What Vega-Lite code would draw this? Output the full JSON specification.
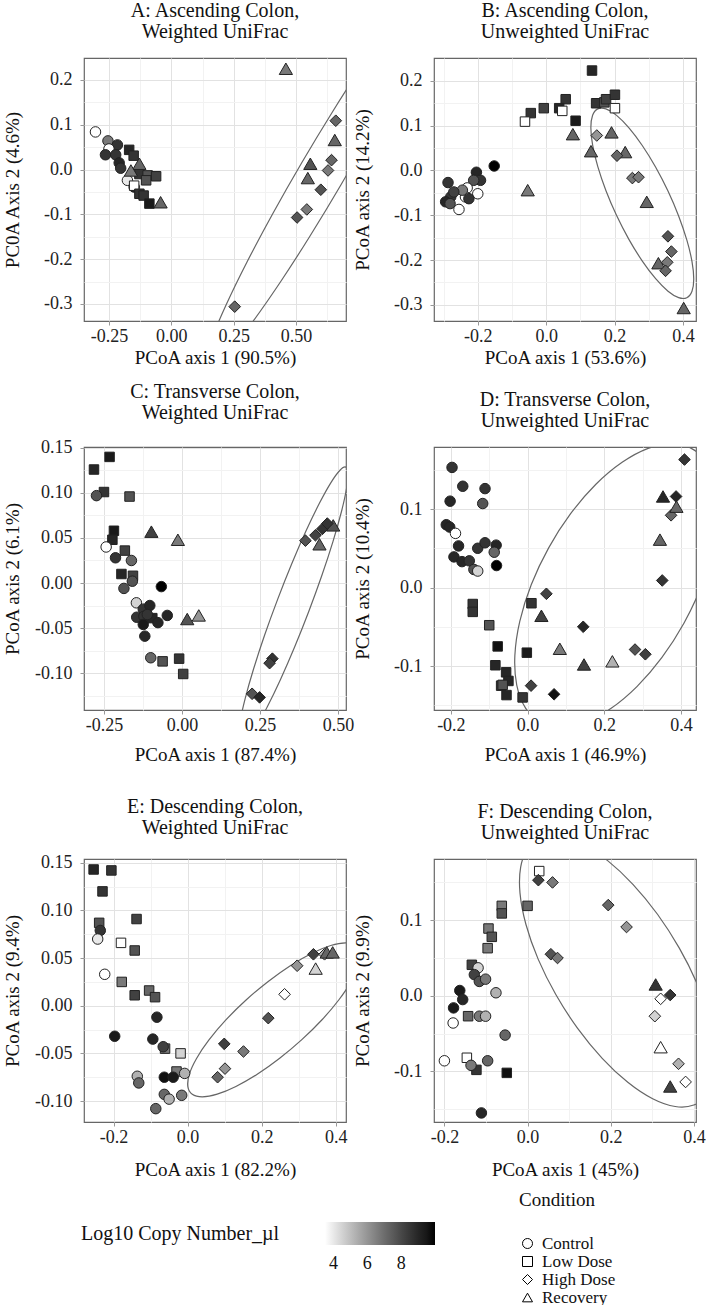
{
"$schema": "https://vega.github.io/schema/vega-lite/v6.json",
"padding": {"left": 2, "top": 0, "right": 0, "bottom": 0},
"background": "white",
"config": {
  "font": "Liberation Serif",
  "view": {"stroke": "#666", "strokeWidth": 1.2},
  "axis": {"domain": false, "labelFont": "Liberation Serif", "labelFontSize": 18, "labelColor": "#222", "titleFont": "Liberation Serif", "titleFontSize": 19, "titleFontWeight": "normal", "titleColor": "#111", "tickColor": "#999", "tickSize": 4, "labelOverlap": false, "labelFlush": false},
  "axisX": {"minExtent": 24, "maxExtent": 24, "labelPadding": 2},
  "axisY": {"minExtent": 50, "maxExtent": 50, "titlePadding": 12, "labelPadding": 8},
  "title": {"font": "Liberation Serif", "fontSize": 20, "fontWeight": "normal", "color": "#111", "lineHeight": 21, "anchor": "middle", "offset": 16},
  "point": {"size": 110, "filled": true, "stroke": "#222", "strokeWidth": 1, "opacity": 1, "fillOpacity": 1},
  "legend": {"labelFont": "Liberation Serif", "titleFont": "Liberation Serif", "titleFontWeight": "normal", "labelColor": "#111", "titleColor": "#111", "titleLimit": 400}
},
"datasets": {
"pts": [
{"p":"A","c":"Control","x":-0.304,"y":0.084,"v":3.5},
{"p":"A","c":"Control","x":-0.254,"y":0.064,"v":6.7},
{"p":"A","c":"Control","x":-0.216,"y":0.055,"v":8.6},
{"p":"A","c":"Control","x":-0.25,"y":0.046,"v":3.5},
{"p":"A","c":"Control","x":-0.264,"y":0.033,"v":8.6},
{"p":"A","c":"Control","x":-0.223,"y":0.033,"v":8.6},
{"p":"A","c":"Control","x":-0.209,"y":0.015,"v":9},
{"p":"A","c":"Control","x":-0.203,"y":0.003,"v":8.6},
{"p":"A","c":"Control","x":-0.176,"y":-0.024,"v":4},
{"p":"A","c":"Control","x":-0.149,"y":-0.039,"v":9},
{"p":"A","c":"Low Dose","x":-0.169,"y":0.044,"v":9},
{"p":"A","c":"Low Dose","x":-0.151,"y":0.031,"v":8.6},
{"p":"A","c":"Low Dose","x":-0.128,"y":-0.01,"v":8.6},
{"p":"A","c":"Low Dose","x":-0.095,"y":-0.013,"v":7.7},
{"p":"A","c":"Low Dose","x":-0.061,"y":-0.015,"v":8.2},
{"p":"A","c":"Low Dose","x":-0.101,"y":-0.024,"v":7.7},
{"p":"A","c":"Low Dose","x":-0.149,"y":-0.036,"v":3.5},
{"p":"A","c":"Low Dose","x":-0.128,"y":-0.054,"v":8.6},
{"p":"A","c":"Low Dose","x":-0.111,"y":-0.058,"v":8.6},
{"p":"A","c":"Low Dose","x":-0.088,"y":-0.076,"v":9.4},
{"p":"A","c":"Recovery","x":-0.128,"y":0.013,"v":7.2},
{"p":"A","c":"Recovery","x":-0.162,"y":-0.002,"v":6.7},
{"p":"A","c":"Recovery","x":-0.043,"y":-0.073,"v":7.2},
{"p":"A","c":"Recovery","x":0.655,"y":0.066,"v":7.2},
{"p":"A","c":"Recovery","x":0.557,"y":0.013,"v":7.7},
{"p":"A","c":"Recovery","x":0.547,"y":-0.019,"v":7.2},
{"p":"A","c":"Recovery","x":0.459,"y":0.225,"v":6.7},
{"p":"A","c":"High Dose","x":0.659,"y":0.109,"v":7.2},
{"p":"A","c":"High Dose","x":0.642,"y":0.021,"v":7.2},
{"p":"A","c":"High Dose","x":0.628,"y":-0.002,"v":6.7},
{"p":"A","c":"High Dose","x":0.599,"y":-0.045,"v":7.7},
{"p":"A","c":"High Dose","x":0.543,"y":-0.089,"v":6.7},
{"p":"A","c":"High Dose","x":0.504,"y":-0.107,"v":7.7},
{"p":"A","c":"High Dose","x":0.254,"y":-0.306,"v":7.2},
{"p":"B","c":"Low Dose","x":0.134,"y":0.223,"v":9},
{"p":"B","c":"Low Dose","x":0.146,"y":0.15,"v":8.6},
{"p":"B","c":"Low Dose","x":0.17,"y":0.152,"v":7.7},
{"p":"B","c":"Low Dose","x":0.175,"y":0.159,"v":8.2},
{"p":"B","c":"Low Dose","x":0.201,"y":0.169,"v":8.6},
{"p":"B","c":"Low Dose","x":0.201,"y":0.139,"v":3.5},
{"p":"B","c":"Low Dose","x":0.057,"y":0.159,"v":8.6},
{"p":"B","c":"Low Dose","x":0.038,"y":0.139,"v":9},
{"p":"B","c":"Low Dose","x":0.047,"y":0.133,"v":3.5},
{"p":"B","c":"Low Dose","x":-0.007,"y":0.139,"v":8.2},
{"p":"B","c":"Low Dose","x":-0.045,"y":0.128,"v":8.6},
{"p":"B","c":"Low Dose","x":-0.062,"y":0.109,"v":3.5},
{"p":"B","c":"Low Dose","x":0.086,"y":0.111,"v":9.4},
{"p":"B","c":"Recovery","x":0.078,"y":0.081,"v":7.2},
{"p":"B","c":"Recovery","x":0.191,"y":0.085,"v":7.2},
{"p":"B","c":"Recovery","x":0.131,"y":0.043,"v":7.2},
{"p":"B","c":"Recovery","x":0.231,"y":0.041,"v":7.2},
{"p":"B","c":"Recovery","x":0.294,"y":-0.07,"v":7.2},
{"p":"B","c":"Recovery","x":0.328,"y":-0.207,"v":7.2},
{"p":"B","c":"Recovery","x":0.402,"y":-0.307,"v":7.2},
{"p":"B","c":"Recovery","x":-0.054,"y":-0.044,"v":6.7},
{"p":"B","c":"High Dose","x":0.148,"y":0.078,"v":6},
{"p":"B","c":"High Dose","x":0.207,"y":0.033,"v":7.2},
{"p":"B","c":"High Dose","x":0.252,"y":-0.017,"v":6.7},
{"p":"B","c":"High Dose","x":0.27,"y":-0.015,"v":6.7},
{"p":"B","c":"High Dose","x":0.356,"y":-0.147,"v":7.7},
{"p":"B","c":"High Dose","x":0.366,"y":-0.181,"v":7.2},
{"p":"B","c":"High Dose","x":0.354,"y":-0.205,"v":6.7},
{"p":"B","c":"High Dose","x":0.349,"y":-0.224,"v":7.2},
{"p":"B","c":"Control","x":-0.152,"y":0.01,"v":10},
{"p":"B","c":"Control","x":-0.204,"y":-0.004,"v":9},
{"p":"B","c":"Control","x":-0.192,"y":-0.022,"v":8.6},
{"p":"B","c":"Control","x":-0.212,"y":-0.022,"v":7.7},
{"p":"B","c":"Control","x":-0.287,"y":-0.027,"v":8.6},
{"p":"B","c":"Control","x":-0.231,"y":-0.039,"v":3.5},
{"p":"B","c":"Control","x":-0.2,"y":-0.052,"v":3.5},
{"p":"B","c":"Control","x":-0.236,"y":-0.059,"v":3.5},
{"p":"B","c":"Control","x":-0.255,"y":-0.087,"v":3.5},
{"p":"B","c":"Control","x":-0.279,"y":-0.059,"v":8.6},
{"p":"B","c":"Control","x":-0.294,"y":-0.07,"v":9},
{"p":"B","c":"Control","x":-0.281,"y":-0.074,"v":7.7},
{"p":"B","c":"Control","x":-0.245,"y":-0.044,"v":6.7},
{"p":"B","c":"Control","x":-0.226,"y":-0.063,"v":8.6},
{"p":"B","c":"Control","x":-0.27,"y":-0.048,"v":8.2},
{"p":"C","c":"Low Dose","x":-0.232,"y":0.14,"v":9.4},
{"p":"C","c":"Low Dose","x":-0.282,"y":0.126,"v":9},
{"p":"C","c":"Low Dose","x":-0.25,"y":0.101,"v":8.6},
{"p":"C","c":"Low Dose","x":-0.168,"y":0.096,"v":7.7},
{"p":"C","c":"Low Dose","x":-0.218,"y":0.058,"v":9.4},
{"p":"C","c":"Low Dose","x":-0.223,"y":0.048,"v":9},
{"p":"C","c":"Low Dose","x":-0.183,"y":0.036,"v":8.2},
{"p":"C","c":"Low Dose","x":-0.194,"y":0.01,"v":9},
{"p":"C","c":"Low Dose","x":-0.157,"y":0.008,"v":8.2},
{"p":"C","c":"Low Dose","x":-0.095,"y":-0.039,"v":9},
{"p":"C","c":"Low Dose","x":-0.062,"y":-0.087,"v":7.7},
{"p":"C","c":"Low Dose","x":-0.009,"y":-0.084,"v":8.6},
{"p":"C","c":"Low Dose","x":0.004,"y":-0.101,"v":8.2},
{"p":"C","c":"Control","x":-0.274,"y":0.097,"v":7.7},
{"p":"C","c":"Control","x":-0.243,"y":0.04,"v":3.5},
{"p":"C","c":"Control","x":-0.213,"y":0.028,"v":8.6},
{"p":"C","c":"Control","x":-0.162,"y":0.025,"v":7.2},
{"p":"C","c":"Control","x":-0.159,"y":0.002,"v":7.7},
{"p":"C","c":"Control","x":-0.186,"y":-0.006,"v":7.7},
{"p":"C","c":"Control","x":-0.066,"y":-0.004,"v":10},
{"p":"C","c":"Control","x":-0.146,"y":-0.022,"v":4.5},
{"p":"C","c":"Control","x":-0.124,"y":-0.029,"v":8.6},
{"p":"C","c":"Control","x":-0.103,"y":-0.025,"v":9},
{"p":"C","c":"Control","x":-0.145,"y":-0.038,"v":8.6},
{"p":"C","c":"Control","x":-0.122,"y":-0.037,"v":8.6},
{"p":"C","c":"Control","x":-0.111,"y":-0.035,"v":8.6},
{"p":"C","c":"Control","x":-0.077,"y":-0.044,"v":9},
{"p":"C","c":"Control","x":-0.047,"y":-0.036,"v":9},
{"p":"C","c":"Control","x":-0.124,"y":-0.046,"v":9.4},
{"p":"C","c":"Control","x":-0.119,"y":-0.059,"v":9},
{"p":"C","c":"Control","x":-0.1,"y":-0.083,"v":7.2},
{"p":"C","c":"Recovery","x":-0.098,"y":0.057,"v":8.2},
{"p":"C","c":"Recovery","x":-0.013,"y":0.048,"v":6.7},
{"p":"C","c":"Recovery","x":0.017,"y":-0.04,"v":7.7},
{"p":"C","c":"Recovery","x":0.054,"y":-0.036,"v":6},
{"p":"C","c":"Recovery","x":0.441,"y":0.043,"v":7.2},
{"p":"C","c":"Recovery","x":0.485,"y":0.064,"v":7.7},
{"p":"C","c":"High Dose","x":0.396,"y":0.047,"v":7.7},
{"p":"C","c":"High Dose","x":0.428,"y":0.053,"v":8.2},
{"p":"C","c":"High Dose","x":0.45,"y":0.06,"v":8.6},
{"p":"C","c":"High Dose","x":0.466,"y":0.066,"v":8.6},
{"p":"C","c":"High Dose","x":0.29,"y":-0.084,"v":8.6},
{"p":"C","c":"High Dose","x":0.281,"y":-0.089,"v":8.2},
{"p":"C","c":"High Dose","x":0.225,"y":-0.123,"v":7.7},
{"p":"C","c":"High Dose","x":0.249,"y":-0.127,"v":9},
{"p":"D","c":"Control","x":-0.197,"y":0.153,"v":8.6},
{"p":"D","c":"Control","x":-0.169,"y":0.129,"v":8.6},
{"p":"D","c":"Control","x":-0.111,"y":0.126,"v":8.6},
{"p":"D","c":"Control","x":-0.202,"y":0.11,"v":9},
{"p":"D","c":"Control","x":-0.117,"y":0.107,"v":7.7},
{"p":"D","c":"Control","x":-0.212,"y":0.08,"v":9},
{"p":"D","c":"Control","x":-0.203,"y":0.077,"v":9},
{"p":"D","c":"Control","x":-0.188,"y":0.069,"v":3.5},
{"p":"D","c":"Control","x":-0.18,"y":0.053,"v":9},
{"p":"D","c":"Control","x":-0.13,"y":0.05,"v":8.6},
{"p":"D","c":"Control","x":-0.111,"y":0.057,"v":8.6},
{"p":"D","c":"Control","x":-0.082,"y":0.054,"v":9},
{"p":"D","c":"Control","x":-0.087,"y":0.045,"v":7.2},
{"p":"D","c":"Control","x":-0.192,"y":0.039,"v":9},
{"p":"D","c":"Control","x":-0.171,"y":0.033,"v":9},
{"p":"D","c":"Control","x":-0.152,"y":0.034,"v":8.6},
{"p":"D","c":"Control","x":-0.14,"y":0.023,"v":7.7},
{"p":"D","c":"Control","x":-0.13,"y":0.021,"v":4.5},
{"p":"D","c":"Control","x":-0.081,"y":0.028,"v":10},
{"p":"D","c":"Low Dose","x":-0.143,"y":-0.021,"v":8.6},
{"p":"D","c":"Low Dose","x":-0.143,"y":-0.031,"v":8.6},
{"p":"D","c":"Low Dose","x":-0.1,"y":-0.048,"v":7.7},
{"p":"D","c":"Low Dose","x":-0.078,"y":-0.075,"v":9.7},
{"p":"D","c":"Low Dose","x":-0.002,"y":-0.083,"v":9.4},
{"p":"D","c":"Low Dose","x":0.01,"y":-0.02,"v":8.6},
{"p":"D","c":"Low Dose","x":-0.084,"y":-0.099,"v":9},
{"p":"D","c":"Low Dose","x":-0.056,"y":-0.108,"v":9},
{"p":"D","c":"Low Dose","x":-0.05,"y":-0.119,"v":9},
{"p":"D","c":"Low Dose","x":-0.069,"y":-0.125,"v":8.6},
{"p":"D","c":"Low Dose","x":-0.065,"y":-0.124,"v":7.7},
{"p":"D","c":"Low Dose","x":-0.055,"y":-0.137,"v":9},
{"p":"D","c":"Low Dose","x":-0.013,"y":-0.14,"v":8.6},
{"p":"D","c":"High Dose","x":0.049,"y":-0.008,"v":8.2},
{"p":"D","c":"High Dose","x":0.145,"y":-0.05,"v":9},
{"p":"D","c":"High Dose","x":0.009,"y":-0.125,"v":8.2},
{"p":"D","c":"High Dose","x":0.069,"y":-0.136,"v":9.7},
{"p":"D","c":"High Dose","x":0.28,"y":-0.079,"v":7.7},
{"p":"D","c":"High Dose","x":0.307,"y":-0.085,"v":8.2},
{"p":"D","c":"High Dose","x":0.351,"y":0.009,"v":8.6},
{"p":"D","c":"High Dose","x":0.374,"y":0.092,"v":7.2},
{"p":"D","c":"High Dose","x":0.387,"y":0.116,"v":9},
{"p":"D","c":"High Dose","x":0.409,"y":0.163,"v":8.6},
{"p":"D","c":"Recovery","x":0.036,"y":-0.036,"v":8.2},
{"p":"D","c":"Recovery","x":0.084,"y":-0.078,"v":6.7},
{"p":"D","c":"Recovery","x":0.147,"y":-0.098,"v":8.2},
{"p":"D","c":"Recovery","x":0.221,"y":-0.094,"v":5.3},
{"p":"D","c":"Recovery","x":0.345,"y":0.061,"v":7.2},
{"p":"D","c":"Recovery","x":0.353,"y":0.116,"v":9},
{"p":"D","c":"Recovery","x":0.388,"y":0.103,"v":7.2},
{"p":"E","c":"Low Dose","x":-0.254,"y":0.143,"v":9},
{"p":"E","c":"Low Dose","x":-0.206,"y":0.142,"v":8.6},
{"p":"E","c":"Low Dose","x":-0.23,"y":0.12,"v":8.6},
{"p":"E","c":"Low Dose","x":-0.239,"y":0.087,"v":7.7},
{"p":"E","c":"Low Dose","x":-0.138,"y":0.091,"v":8.2},
{"p":"E","c":"Low Dose","x":-0.18,"y":0.066,"v":3.5},
{"p":"E","c":"Low Dose","x":-0.143,"y":0.058,"v":7.7},
{"p":"E","c":"Low Dose","x":-0.178,"y":0.025,"v":6.7},
{"p":"E","c":"Low Dose","x":-0.143,"y":0.011,"v":8.2},
{"p":"E","c":"Low Dose","x":-0.104,"y":0.016,"v":7.2},
{"p":"E","c":"Low Dose","x":-0.088,"y":0.009,"v":7.7},
{"p":"E","c":"Low Dose","x":-0.061,"y":-0.045,"v":6.7},
{"p":"E","c":"Low Dose","x":-0.019,"y":-0.05,"v":4.5},
{"p":"E","c":"Low Dose","x":-0.03,"y":-0.069,"v":6.7},
{"p":"E","c":"Control","x":-0.236,"y":0.079,"v":8.6},
{"p":"E","c":"Control","x":-0.243,"y":0.07,"v":4},
{"p":"E","c":"Control","x":-0.224,"y":0.033,"v":3.5},
{"p":"E","c":"Control","x":-0.083,"y":-0.012,"v":9},
{"p":"E","c":"Control","x":-0.197,"y":-0.032,"v":9.4},
{"p":"E","c":"Control","x":-0.094,"y":-0.035,"v":9},
{"p":"E","c":"Control","x":-0.066,"y":-0.043,"v":8.2},
{"p":"E","c":"Control","x":-0.136,"y":-0.074,"v":5.3},
{"p":"E","c":"Control","x":-0.132,"y":-0.081,"v":7.2},
{"p":"E","c":"Control","x":-0.063,"y":-0.075,"v":9.7},
{"p":"E","c":"Control","x":-0.039,"y":-0.075,"v":9.4},
{"p":"E","c":"Control","x":-0.063,"y":-0.093,"v":7.2},
{"p":"E","c":"Control","x":-0.05,"y":-0.098,"v":5.3},
{"p":"E","c":"Control","x":-0.086,"y":-0.108,"v":7.2},
{"p":"E","c":"Control","x":-0.016,"y":-0.094,"v":6.7},
{"p":"E","c":"Control","x":-0.008,"y":-0.071,"v":5.3},
{"p":"E","c":"High Dose","x":0.081,"y":-0.075,"v":7.2},
{"p":"E","c":"High Dose","x":0.101,"y":-0.066,"v":6},
{"p":"E","c":"High Dose","x":0.099,"y":-0.04,"v":8.2},
{"p":"E","c":"High Dose","x":0.151,"y":-0.048,"v":6.7},
{"p":"E","c":"High Dose","x":0.218,"y":-0.013,"v":7.7},
{"p":"E","c":"High Dose","x":0.262,"y":0.012,"v":3.5},
{"p":"E","c":"High Dose","x":0.296,"y":0.042,"v":6},
{"p":"E","c":"High Dose","x":0.34,"y":0.054,"v":8.2},
{"p":"E","c":"High Dose","x":0.37,"y":0.054,"v":5.3},
{"p":"E","c":"Recovery","x":0.346,"y":0.039,"v":4.5},
{"p":"E","c":"Recovery","x":0.376,"y":0.056,"v":7.2},
{"p":"E","c":"Recovery","x":0.392,"y":0.056,"v":7.2},
{"p":"F","c":"Low Dose","x":0.028,"y":0.165,"v":3.5},
{"p":"F","c":"Low Dose","x":-0.062,"y":0.119,"v":6.7},
{"p":"F","c":"Low Dose","x":-0.062,"y":0.109,"v":7.7},
{"p":"F","c":"Low Dose","x":0,"y":0.119,"v":7.2},
{"p":"F","c":"Low Dose","x":-0.094,"y":0.089,"v":6.7},
{"p":"F","c":"Low Dose","x":-0.086,"y":0.078,"v":7.7},
{"p":"F","c":"Low Dose","x":-0.096,"y":0.063,"v":6.7},
{"p":"F","c":"Low Dose","x":-0.134,"y":0.041,"v":8.2},
{"p":"F","c":"Low Dose","x":-0.143,"y":-0.027,"v":7.2},
{"p":"F","c":"Low Dose","x":-0.146,"y":-0.082,"v":3.5},
{"p":"F","c":"Low Dose","x":-0.123,"y":-0.098,"v":8.6},
{"p":"F","c":"Low Dose","x":-0.05,"y":-0.102,"v":9.7},
{"p":"F","c":"Control","x":-0.119,"y":0.037,"v":4.5},
{"p":"F","c":"Control","x":-0.128,"y":0.028,"v":8.2},
{"p":"F","c":"Control","x":-0.116,"y":0.019,"v":7.7},
{"p":"F","c":"Control","x":-0.101,"y":0.022,"v":6.7},
{"p":"F","c":"Control","x":-0.163,"y":0.007,"v":9.4},
{"p":"F","c":"Control","x":-0.156,"y":-0.005,"v":9},
{"p":"F","c":"Control","x":-0.178,"y":-0.016,"v":9.4},
{"p":"F","c":"Control","x":-0.179,"y":-0.036,"v":3.5},
{"p":"F","c":"Control","x":-0.076,"y":0.004,"v":5.3},
{"p":"F","c":"Control","x":-0.116,"y":-0.027,"v":6.7},
{"p":"F","c":"Control","x":-0.101,"y":-0.027,"v":5.3},
{"p":"F","c":"Control","x":-0.054,"y":-0.052,"v":7.2},
{"p":"F","c":"Control","x":-0.096,"y":-0.086,"v":7.2},
{"p":"F","c":"Control","x":-0.136,"y":-0.092,"v":6.7},
{"p":"F","c":"Control","x":-0.2,"y":-0.086,"v":3.5},
{"p":"F","c":"Control","x":-0.111,"y":-0.155,"v":9},
{"p":"F","c":"Recovery","x":0.308,"y":0.015,"v":8.6},
{"p":"F","c":"Recovery","x":0.32,"y":-0.068,"v":3.5},
{"p":"F","c":"Recovery","x":0.343,"y":-0.12,"v":8.2},
{"p":"F","c":"High Dose","x":0.026,"y":0.153,"v":8.2},
{"p":"F","c":"High Dose","x":0.06,"y":0.15,"v":6.7},
{"p":"F","c":"High Dose","x":0.056,"y":0.055,"v":7.7},
{"p":"F","c":"High Dose","x":0.072,"y":0.05,"v":6.7},
{"p":"F","c":"High Dose","x":0.194,"y":0.12,"v":7.2},
{"p":"F","c":"High Dose","x":0.238,"y":0.091,"v":6},
{"p":"F","c":"High Dose","x":0.343,"y":0.001,"v":8.6},
{"p":"F","c":"High Dose","x":0.32,"y":-0.004,"v":3.5},
{"p":"F","c":"High Dose","x":0.306,"y":-0.027,"v":4.5},
{"p":"F","c":"High Dose","x":0.363,"y":-0.09,"v":5.3},
{"p":"F","c":"High Dose","x":0.38,"y":-0.114,"v":3.5}
],
"ell": [
{"p":"A","i":0,"x":1.0605,"y":0.4267},{"p":"A","i":1,"x":1.0652,"y":0.4055},{"p":"A","i":2,"x":1.0381,"y":0.3558},{"p":"A","i":3,"x":0.9813,"y":0.2814},{"p":"A","i":4,"x":0.8987,"y":0.1871},{"p":"A","i":5,"x":0.7957,"y":0.0794},{"p":"A","i":6,"x":0.6794,"y":-0.0344},{"p":"A","i":7,"x":0.5577,"y":-0.1466},{"p":"A","i":8,"x":0.4391,"y":-0.2493},{"p":"A","i":9,"x":0.3315,"y":-0.3356},{"p":"A","i":10,"x":0.2423,"y":-0.3998},{"p":"A","i":11,"x":0.1774,"y":-0.4375},{"p":"A","i":12,"x":0.1415,"y":-0.4459},{"p":"A","i":13,"x":0.1368,"y":-0.4247},{"p":"A","i":14,"x":0.1639,"y":-0.375},{"p":"A","i":15,"x":0.2207,"y":-0.3006},{"p":"A","i":16,"x":0.3033,"y":-0.2063},{"p":"A","i":17,"x":0.4063,"y":-0.0986},{"p":"A","i":18,"x":0.5226,"y":0.0152},{"p":"A","i":19,"x":0.6443,"y":0.1274},{"p":"A","i":20,"x":0.7629,"y":0.2301},{"p":"A","i":21,"x":0.8705,"y":0.3164},{"p":"A","i":22,"x":0.9597,"y":0.3806},{"p":"A","i":23,"x":1.0246,"y":0.4183},
{"p":"B","i":0,"x":0.4112,"y":-0.284},{"p":"B","i":1,"x":0.4263,"y":-0.2697},{"p":"B","i":2,"x":0.4314,"y":-0.2421},{"p":"B","i":3,"x":0.4262,"y":-0.203},{"p":"B","i":4,"x":0.4111,"y":-0.1551},{"p":"B","i":5,"x":0.3872,"y":-0.1015},{"p":"B","i":6,"x":0.3561,"y":-0.046},{"p":"B","i":7,"x":0.3198,"y":0.0077},{"p":"B","i":8,"x":0.2809,"y":0.0557},{"p":"B","i":9,"x":0.242,"y":0.095},{"p":"B","i":10,"x":0.2058,"y":0.1229},{"p":"B","i":11,"x":0.1747,"y":0.1373},{"p":"B","i":12,"x":0.1508,"y":0.1374},{"p":"B","i":13,"x":0.1357,"y":0.1231},{"p":"B","i":14,"x":0.1306,"y":0.0955},{"p":"B","i":15,"x":0.1358,"y":0.0564},{"p":"B","i":16,"x":0.1509,"y":0.0085},{"p":"B","i":17,"x":0.1748,"y":-0.0451},{"p":"B","i":18,"x":0.2059,"y":-0.1006},{"p":"B","i":19,"x":0.2422,"y":-0.1543},{"p":"B","i":20,"x":0.2811,"y":-0.2023},{"p":"B","i":21,"x":0.32,"y":-0.2416},{"p":"B","i":22,"x":0.3562,"y":-0.2695},{"p":"B","i":23,"x":0.3873,"y":-0.2839},
{"p":"C","i":0,"x":0.5253,"y":0.1287},{"p":"C","i":1,"x":0.5325,"y":0.1218},{"p":"C","i":2,"x":0.5277,"y":0.1049},{"p":"C","i":3,"x":0.5113,"y":0.0791},{"p":"C","i":4,"x":0.4844,"y":0.0463},{"p":"C","i":5,"x":0.4488,"y":0.0086},{"p":"C","i":6,"x":0.4069,"y":-0.0313},{"p":"C","i":7,"x":0.3616,"y":-0.0708},{"p":"C","i":8,"x":0.316,"y":-0.1071},{"p":"C","i":9,"x":0.2733,"y":-0.1377},{"p":"C","i":10,"x":0.2363,"y":-0.1607},{"p":"C","i":11,"x":0.2073,"y":-0.1744},{"p":"C","i":12,"x":0.1887,"y":-0.1779},{"p":"C","i":13,"x":0.1815,"y":-0.171},{"p":"C","i":14,"x":0.1863,"y":-0.1541},{"p":"C","i":15,"x":0.2027,"y":-0.1283},{"p":"C","i":16,"x":0.2296,"y":-0.0955},{"p":"C","i":17,"x":0.2652,"y":-0.0578},{"p":"C","i":18,"x":0.3071,"y":-0.0179},{"p":"C","i":19,"x":0.3524,"y":0.0216},{"p":"C","i":20,"x":0.398,"y":0.0579},{"p":"C","i":21,"x":0.4407,"y":0.0885},{"p":"C","i":22,"x":0.4777,"y":0.1115},{"p":"C","i":23,"x":0.5067,"y":0.1252},
{"p":"D","i":0,"x":0.429,"y":0.1766},{"p":"D","i":1,"x":0.468,"y":0.1583},{"p":"D","i":2,"x":0.4907,"y":0.1293},{"p":"D","i":3,"x":0.4956,"y":0.0917},{"p":"D","i":4,"x":0.4828,"y":0.048},{"p":"D","i":5,"x":0.4527,"y":0.0012},{"p":"D","i":6,"x":0.4075,"y":-0.0455},{"p":"D","i":7,"x":0.3503,"y":-0.089},{"p":"D","i":8,"x":0.285,"y":-0.1262},{"p":"D","i":9,"x":0.216,"y":-0.1545},{"p":"D","i":10,"x":0.1481,"y":-0.1723},{"p":"D","i":11,"x":0.0858,"y":-0.1781},{"p":"D","i":12,"x":0.0334,"y":-0.1716},{"p":"D","i":13,"x":-0.0056,"y":-0.1533},{"p":"D","i":14,"x":-0.0283,"y":-0.1243},{"p":"D","i":15,"x":-0.0332,"y":-0.0867},{"p":"D","i":16,"x":-0.0204,"y":-0.043},{"p":"D","i":17,"x":0.0097,"y":0.0038},{"p":"D","i":18,"x":0.0549,"y":0.0505},{"p":"D","i":19,"x":0.1121,"y":0.094},{"p":"D","i":20,"x":0.1774,"y":0.1312},{"p":"D","i":21,"x":0.2464,"y":0.1595},{"p":"D","i":22,"x":0.3143,"y":0.1773},{"p":"D","i":23,"x":0.3766,"y":0.1831},
{"p":"E","i":0,"x":0.454,"y":0.0633},{"p":"E","i":1,"x":0.466,"y":0.0552},{"p":"E","i":2,"x":0.4621,"y":0.0424},{"p":"E","i":3,"x":0.4425,"y":0.0257},{"p":"E","i":4,"x":0.4089,"y":0.0063},{"p":"E","i":5,"x":0.3632,"y":-0.0147},{"p":"E","i":6,"x":0.3086,"y":-0.0356},{"p":"E","i":7,"x":0.2488,"y":-0.0551},{"p":"E","i":8,"x":0.1881,"y":-0.0719},{"p":"E","i":9,"x":0.1305,"y":-0.0847},{"p":"E","i":10,"x":0.0799,"y":-0.0928},{"p":"E","i":11,"x":0.0396,"y":-0.0956},{"p":"E","i":12,"x":0.0126,"y":-0.0929},{"p":"E","i":13,"x":0.0006,"y":-0.0848},{"p":"E","i":14,"x":0.0045,"y":-0.072},{"p":"E","i":15,"x":0.0241,"y":-0.0553},{"p":"E","i":16,"x":0.0577,"y":-0.0359},{"p":"E","i":17,"x":0.1034,"y":-0.0149},{"p":"E","i":18,"x":0.158,"y":0.006},{"p":"E","i":19,"x":0.2178,"y":0.0255},{"p":"E","i":20,"x":0.2785,"y":0.0423},{"p":"E","i":21,"x":0.3361,"y":0.0551},{"p":"E","i":22,"x":0.3867,"y":0.0632},{"p":"E","i":23,"x":0.427,"y":0.066},
{"p":"F","i":0,"x":0.3997,"y":-0.1445},{"p":"F","i":1,"x":0.432,"y":-0.1305},{"p":"F","i":2,"x":0.4494,"y":-0.1054},{"p":"F","i":3,"x":0.451,"y":-0.071},{"p":"F","i":4,"x":0.4367,"y":-0.0295},{"p":"F","i":5,"x":0.4074,"y":0.0163},{"p":"F","i":6,"x":0.3649,"y":0.0631},{"p":"F","i":7,"x":0.3124,"y":0.1079},{"p":"F","i":8,"x":0.2533,"y":0.1475},{"p":"F","i":9,"x":0.1918,"y":0.1792},{"p":"F","i":10,"x":0.132,"y":0.201},{"p":"F","i":11,"x":0.0778,"y":0.2113},{"p":"F","i":12,"x":0.0331,"y":0.2093},{"p":"F","i":13,"x":0.0008,"y":0.1953},{"p":"F","i":14,"x":-0.0166,"y":0.1702},{"p":"F","i":15,"x":-0.0182,"y":0.1358},{"p":"F","i":16,"x":-0.0039,"y":0.0943},{"p":"F","i":17,"x":0.0254,"y":0.0485},{"p":"F","i":18,"x":0.0679,"y":0.0017},{"p":"F","i":19,"x":0.1204,"y":-0.0431},{"p":"F","i":20,"x":0.1795,"y":-0.0827},{"p":"F","i":21,"x":0.241,"y":-0.1144},{"p":"F","i":22,"x":0.3008,"y":-0.1362},{"p":"F","i":23,"x":0.355,"y":-0.1465}
]
},
"spacing": 13,
"vconcat": [
{"bounds": "flush", "spacing": 88, "hconcat": [
{"width": 262, "height": 263, "title": {"text": ["A: Ascending Colon,", "Weighted UniFrac"]},
 "encoding": {
  "x": {"field": "x", "type": "quantitative", "scale": {"domain": [-0.35, 0.7], "nice": false, "zero": false}, "axis": {"title": "PCoA axis 1 (90.5%)", "titlePadding": 3, "format": ".2f", "values": [-0.25,-0.125,0,0.125,0.25,0.375,0.5,0.625], "labelExpr": "indexof([-0.25,0,0.25,0.5],datum.value)>=0 ? replace(datum.label,'\u2212','-') : ''", "gridColor": {"condition": {"test": "indexof([-0.25,0,0.25,0.5],datum.value)>=0", "value": "#e2e2e2"}, "value": "#f2f2f2"}, "tickOpacity": {"condition": {"test": "indexof([-0.25,0,0.25,0.5],datum.value)>=0", "value": 1}, "value": 0}}},
  "y": {"field": "y", "type": "quantitative", "scale": {"domain": [-0.338, 0.249], "nice": false, "zero": false}, "axis": {"title": "PC0A Axis 2 (4.6%)", "format": ".1f", "values": [-0.3,-0.25,-0.2,-0.15,-0.1,-0.05,0,0.05,0.1,0.15,0.2], "labelExpr": "indexof([-0.3,-0.2,-0.1,0,0.1,0.2],datum.value)>=0 ? replace(datum.label,'\u2212','-') : ''", "gridColor": {"condition": {"test": "indexof([-0.3,-0.2,-0.1,0,0.1,0.2],datum.value)>=0", "value": "#e2e2e2"}, "value": "#f2f2f2"}, "tickOpacity": {"condition": {"test": "indexof([-0.3,-0.2,-0.1,0,0.1,0.2],datum.value)>=0", "value": 1}, "value": 0}}}
 },
 "layer": [
  {"data": {"name": "ell"}, "transform": [{"filter": "datum.p=='A'"}], "mark": {"type": "line", "clip": true, "interpolate": "cardinal-closed", "stroke": "#666", "strokeWidth": 1.2}, "encoding": {"order": {"field": "i", "type": "quantitative"}}},
  {"data": {"name": "pts"}, "transform": [{"filter": "datum.p=='A'"}], "mark": {"type": "point"},
   "encoding": {
    "size": {"condition": [{"test": "datum.c=='Recovery'", "value": 175}, {"test": "datum.c=='High Dose'", "value": 135}, {"test": "datum.c=='Low Dose'", "value": 90}], "value": 110},
    "shape": {"field": "c", "type": "nominal", "scale": {"domain": ["Control","Low Dose","High Dose","Recovery"], "range": ["circle","square","diamond","triangle-up"]}, "legend": {"title": "Condition", "orient": "none", "legendX": 435, "legendY": 1133, "titleFontSize": 19, "titlePadding": 25, "titleAnchor": "start", "labelFontSize": 17, "symbolSize": 100, "symbolStrokeWidth": 2, "symbolStrokeColor": "#000", "symbolFillColor": "#fff", "rowPadding": 0, "labelOffset": 6, "encode": {"symbols": {"update": {"stroke": {"value": "#000"}, "strokeWidth": {"value": 2}, "fill": {"value": "#fff"}, "opacity": {"value": 1}}}}}},
    "fill": {"field": "v", "type": "quantitative", "scale": {"domain": [3.5, 10], "range": ["#ffffff", "#000000"], "interpolate": "lab", "clamp": true}, "legend": {"title": "Log10 Copy Number_µl", "orient": "none", "legendX": -3, "legendY": 1164, "direction": "horizontal", "titleOrient": "left", "titlePadding": 45, "titleFontSize": 20, "labelFontSize": 18, "gradientLength": 110, "gradientThickness": 23, "values": [4,6,8], "labelOffset": 10}}
   }}
 ]},
{"width": 262, "height": 263, "title": {"text": ["B: Ascending Colon,", "Unweighted UniFrac"]},
 "encoding": {
  "x": {"field": "x", "type": "quantitative", "scale": {"domain": [-0.328, 0.438], "nice": false, "zero": false}, "axis": {"title": "PCoA axis 1 (53.6%)", "titlePadding": 3, "format": ".1f", "values": [-0.3,-0.2,-0.1,0,0.1,0.2,0.3,0.4], "labelExpr": "indexof([-0.2,0,0.2,0.4],datum.value)>=0 ? replace(datum.label,'\u2212','-') : ''", "gridColor": {"condition": {"test": "indexof([-0.2,0,0.2,0.4],datum.value)>=0", "value": "#e2e2e2"}, "value": "#f2f2f2"}, "tickOpacity": {"condition": {"test": "indexof([-0.2,0,0.2,0.4],datum.value)>=0", "value": 1}, "value": 0}}},
  "y": {"field": "y", "type": "quantitative", "scale": {"domain": [-0.336, 0.251], "nice": false, "zero": false}, "axis": {"title": "PCoA axis 2 (14.2%)", "format": ".1f", "values": [-0.3,-0.25,-0.2,-0.15,-0.1,-0.05,0,0.05,0.1,0.15,0.2], "labelExpr": "indexof([-0.3,-0.2,-0.1,0,0.1,0.2],datum.value)>=0 ? replace(datum.label,'\u2212','-') : ''", "gridColor": {"condition": {"test": "indexof([-0.3,-0.2,-0.1,0,0.1,0.2],datum.value)>=0", "value": "#e2e2e2"}, "value": "#f2f2f2"}, "tickOpacity": {"condition": {"test": "indexof([-0.3,-0.2,-0.1,0,0.1,0.2],datum.value)>=0", "value": 1}, "value": 0}}}
 },
 "layer": [
  {"data": {"name": "ell"}, "transform": [{"filter": "datum.p=='B'"}], "mark": {"type": "line", "clip": true, "interpolate": "cardinal-closed", "stroke": "#666", "strokeWidth": 1.2}, "encoding": {"order": {"field": "i", "type": "quantitative"}}},
  {"data": {"name": "pts"}, "transform": [{"filter": "datum.p=='B'"}], "mark": {"type": "point"},
   "encoding": {
    "size": {"condition": [{"test": "datum.c=='Recovery'", "value": 175}, {"test": "datum.c=='High Dose'", "value": 135}, {"test": "datum.c=='Low Dose'", "value": 90}], "value": 110},
    "shape": {"field": "c", "type": "nominal", "scale": {"domain": ["Control","Low Dose","High Dose","Recovery"], "range": ["circle","square","diamond","triangle-up"]}, "legend": {"title": "Condition", "orient": "none", "legendX": 435, "legendY": 1133, "titleFontSize": 19, "titlePadding": 25, "titleAnchor": "start", "labelFontSize": 17, "symbolSize": 100, "symbolStrokeWidth": 2, "symbolStrokeColor": "#000", "symbolFillColor": "#fff", "rowPadding": 0, "labelOffset": 6, "encode": {"symbols": {"update": {"stroke": {"value": "#000"}, "strokeWidth": {"value": 2}, "fill": {"value": "#fff"}, "opacity": {"value": 1}}}}}},
    "fill": {"field": "v", "type": "quantitative", "scale": {"domain": [3.5, 10], "range": ["#ffffff", "#000000"], "interpolate": "lab", "clamp": true}, "legend": {"title": "Log10 Copy Number_µl", "orient": "none", "legendX": -3, "legendY": 1164, "direction": "horizontal", "titleOrient": "left", "titlePadding": 45, "titleFontSize": 20, "labelFontSize": 18, "gradientLength": 110, "gradientThickness": 23, "values": [4,6,8], "labelOffset": 10}}
   }}
 ]}
]},
{"spacing": 31, "vconcat": [
{"bounds": "flush", "spacing": 88, "hconcat": [
{"width": 262, "height": 263, "title": {"text": ["C: Transverse Colon,", "Weighted UniFrac"]},
 "encoding": {
  "x": {"field": "x", "type": "quantitative", "scale": {"domain": [-0.314, 0.526], "nice": false, "zero": false}, "axis": {"title": "PCoA axis 1 (87.4%)", "titlePadding": 11, "format": ".2f", "values": [-0.25,-0.125,0,0.125,0.25,0.375,0.5], "labelExpr": "indexof([-0.25,0,0.25,0.5],datum.value)>=0 ? replace(datum.label,'\u2212','-') : ''", "gridColor": {"condition": {"test": "indexof([-0.25,0,0.25,0.5],datum.value)>=0", "value": "#e2e2e2"}, "value": "#f2f2f2"}, "tickOpacity": {"condition": {"test": "indexof([-0.25,0,0.25,0.5],datum.value)>=0", "value": 1}, "value": 0}}},
  "y": {"field": "y", "type": "quantitative", "scale": {"domain": [-0.141, 0.151], "nice": false, "zero": false}, "axis": {"title": "PCoA axis 2 (6.1%)", "format": ".2f", "values": [-0.125,-0.1,-0.075,-0.05,-0.025,0,0.025,0.05,0.075,0.1,0.125,0.15], "labelExpr": "indexof([-0.1,-0.05,0,0.05,0.1,0.15],datum.value)>=0 ? replace(datum.label,'\u2212','-') : ''", "gridColor": {"condition": {"test": "indexof([-0.1,-0.05,0,0.05,0.1,0.15],datum.value)>=0", "value": "#e2e2e2"}, "value": "#f2f2f2"}, "tickOpacity": {"condition": {"test": "indexof([-0.1,-0.05,0,0.05,0.1,0.15],datum.value)>=0", "value": 1}, "value": 0}}}
 },
 "layer": [
  {"data": {"name": "ell"}, "transform": [{"filter": "datum.p=='C'"}], "mark": {"type": "line", "clip": true, "interpolate": "cardinal-closed", "stroke": "#666", "strokeWidth": 1.2}, "encoding": {"order": {"field": "i", "type": "quantitative"}}},
  {"data": {"name": "pts"}, "transform": [{"filter": "datum.p=='C'"}], "mark": {"type": "point"},
   "encoding": {
    "size": {"condition": [{"test": "datum.c=='Recovery'", "value": 175}, {"test": "datum.c=='High Dose'", "value": 135}, {"test": "datum.c=='Low Dose'", "value": 90}], "value": 110},
    "shape": {"field": "c", "type": "nominal", "scale": {"domain": ["Control","Low Dose","High Dose","Recovery"], "range": ["circle","square","diamond","triangle-up"]}, "legend": {"title": "Condition", "orient": "none", "legendX": 435, "legendY": 1133, "titleFontSize": 19, "titlePadding": 25, "titleAnchor": "start", "labelFontSize": 17, "symbolSize": 100, "symbolStrokeWidth": 2, "symbolStrokeColor": "#000", "symbolFillColor": "#fff", "rowPadding": 0, "labelOffset": 6, "encode": {"symbols": {"update": {"stroke": {"value": "#000"}, "strokeWidth": {"value": 2}, "fill": {"value": "#fff"}, "opacity": {"value": 1}}}}}},
    "fill": {"field": "v", "type": "quantitative", "scale": {"domain": [3.5, 10], "range": ["#ffffff", "#000000"], "interpolate": "lab", "clamp": true}, "legend": {"title": "Log10 Copy Number_µl", "orient": "none", "legendX": -3, "legendY": 1164, "direction": "horizontal", "titleOrient": "left", "titlePadding": 45, "titleFontSize": 20, "labelFontSize": 18, "gradientLength": 110, "gradientThickness": 23, "values": [4,6,8], "labelOffset": 10}}
   }}
 ]},
{"width": 262, "height": 263, "title": {"text": ["D: Transverse Colon,", "Unweighted UniFrac"]},
 "encoding": {
  "x": {"field": "x", "type": "quantitative", "scale": {"domain": [-0.244, 0.439], "nice": false, "zero": false}, "axis": {"title": "PCoA axis 1 (46.9%)", "titlePadding": 11, "format": ".1f", "values": [-0.2,-0.1,0,0.1,0.2,0.3,0.4], "labelExpr": "indexof([-0.2,0,0.2,0.4],datum.value)>=0 ? replace(datum.label,'\u2212','-') : ''", "gridColor": {"condition": {"test": "indexof([-0.2,0,0.2,0.4],datum.value)>=0", "value": "#e2e2e2"}, "value": "#f2f2f2"}, "tickOpacity": {"condition": {"test": "indexof([-0.2,0,0.2,0.4],datum.value)>=0", "value": 1}, "value": 0}}},
  "y": {"field": "y", "type": "quantitative", "scale": {"domain": [-0.156, 0.179], "nice": false, "zero": false}, "axis": {"title": "PCoA axis 2 (10.4%)", "format": ".1f", "values": [-0.15,-0.1,-0.05,0,0.05,0.1,0.15], "labelExpr": "indexof([-0.1,0,0.1],datum.value)>=0 ? replace(datum.label,'\u2212','-') : ''", "gridColor": {"condition": {"test": "indexof([-0.1,0,0.1],datum.value)>=0", "value": "#e2e2e2"}, "value": "#f2f2f2"}, "tickOpacity": {"condition": {"test": "indexof([-0.1,0,0.1],datum.value)>=0", "value": 1}, "value": 0}}}
 },
 "layer": [
  {"data": {"name": "ell"}, "transform": [{"filter": "datum.p=='D'"}], "mark": {"type": "line", "clip": true, "interpolate": "cardinal-closed", "stroke": "#666", "strokeWidth": 1.2}, "encoding": {"order": {"field": "i", "type": "quantitative"}}},
  {"data": {"name": "pts"}, "transform": [{"filter": "datum.p=='D'"}], "mark": {"type": "point"},
   "encoding": {
    "size": {"condition": [{"test": "datum.c=='Recovery'", "value": 175}, {"test": "datum.c=='High Dose'", "value": 135}, {"test": "datum.c=='Low Dose'", "value": 90}], "value": 110},
    "shape": {"field": "c", "type": "nominal", "scale": {"domain": ["Control","Low Dose","High Dose","Recovery"], "range": ["circle","square","diamond","triangle-up"]}, "legend": {"title": "Condition", "orient": "none", "legendX": 435, "legendY": 1133, "titleFontSize": 19, "titlePadding": 25, "titleAnchor": "start", "labelFontSize": 17, "symbolSize": 100, "symbolStrokeWidth": 2, "symbolStrokeColor": "#000", "symbolFillColor": "#fff", "rowPadding": 0, "labelOffset": 6, "encode": {"symbols": {"update": {"stroke": {"value": "#000"}, "strokeWidth": {"value": 2}, "fill": {"value": "#fff"}, "opacity": {"value": 1}}}}}},
    "fill": {"field": "v", "type": "quantitative", "scale": {"domain": [3.5, 10], "range": ["#ffffff", "#000000"], "interpolate": "lab", "clamp": true}, "legend": {"title": "Log10 Copy Number_µl", "orient": "none", "legendX": -3, "legendY": 1164, "direction": "horizontal", "titleOrient": "left", "titlePadding": 45, "titleFontSize": 20, "labelFontSize": 18, "gradientLength": 110, "gradientThickness": 23, "values": [4,6,8], "labelOffset": 10}}
   }}
 ]}
]},
{"bounds": "flush", "spacing": 88, "hconcat": [
{"width": 262, "height": 263, "title": {"text": ["E: Descending Colon,", "Weighted UniFrac"]},
 "encoding": {
  "x": {"field": "x", "type": "quantitative", "scale": {"domain": [-0.28, 0.428], "nice": false, "zero": false}, "axis": {"title": "PCoA axis 1 (82.2%)", "titlePadding": 14, "format": ".1f", "values": [-0.2,-0.1,0,0.1,0.2,0.3,0.4], "labelExpr": "indexof([-0.2,0,0.2,0.4],datum.value)>=0 ? replace(datum.label,'\u2212','-') : ''", "gridColor": {"condition": {"test": "indexof([-0.2,0,0.2,0.4],datum.value)>=0", "value": "#e2e2e2"}, "value": "#f2f2f2"}, "tickOpacity": {"condition": {"test": "indexof([-0.2,0,0.2,0.4],datum.value)>=0", "value": 1}, "value": 0}}},
  "y": {"field": "y", "type": "quantitative", "scale": {"domain": [-0.122, 0.154], "nice": false, "zero": false}, "axis": {"title": "PCoA axis 2 (9.4%)", "format": ".2f", "values": [-0.1,-0.075,-0.05,-0.025,0,0.025,0.05,0.075,0.1,0.125,0.15], "labelExpr": "indexof([-0.1,-0.05,0,0.05,0.1,0.15],datum.value)>=0 ? replace(datum.label,'\u2212','-') : ''", "gridColor": {"condition": {"test": "indexof([-0.1,-0.05,0,0.05,0.1,0.15],datum.value)>=0", "value": "#e2e2e2"}, "value": "#f2f2f2"}, "tickOpacity": {"condition": {"test": "indexof([-0.1,-0.05,0,0.05,0.1,0.15],datum.value)>=0", "value": 1}, "value": 0}}}
 },
 "layer": [
  {"data": {"name": "ell"}, "transform": [{"filter": "datum.p=='E'"}], "mark": {"type": "line", "clip": true, "interpolate": "cardinal-closed", "stroke": "#666", "strokeWidth": 1.2}, "encoding": {"order": {"field": "i", "type": "quantitative"}}},
  {"data": {"name": "pts"}, "transform": [{"filter": "datum.p=='E'"}], "mark": {"type": "point"},
   "encoding": {
    "size": {"condition": [{"test": "datum.c=='Recovery'", "value": 175}, {"test": "datum.c=='High Dose'", "value": 135}, {"test": "datum.c=='Low Dose'", "value": 90}], "value": 110},
    "shape": {"field": "c", "type": "nominal", "scale": {"domain": ["Control","Low Dose","High Dose","Recovery"], "range": ["circle","square","diamond","triangle-up"]}, "legend": {"title": "Condition", "orient": "none", "legendX": 435, "legendY": 1133, "titleFontSize": 19, "titlePadding": 25, "titleAnchor": "start", "labelFontSize": 17, "symbolSize": 100, "symbolStrokeWidth": 2, "symbolStrokeColor": "#000", "symbolFillColor": "#fff", "rowPadding": 0, "labelOffset": 6, "encode": {"symbols": {"update": {"stroke": {"value": "#000"}, "strokeWidth": {"value": 2}, "fill": {"value": "#fff"}, "opacity": {"value": 1}}}}}},
    "fill": {"field": "v", "type": "quantitative", "scale": {"domain": [3.5, 10], "range": ["#ffffff", "#000000"], "interpolate": "lab", "clamp": true}, "legend": {"title": "Log10 Copy Number_µl", "orient": "none", "legendX": -3, "legendY": 1164, "direction": "horizontal", "titleOrient": "left", "titlePadding": 45, "titleFontSize": 20, "labelFontSize": 18, "gradientLength": 110, "gradientThickness": 23, "values": [4,6,8], "labelOffset": 10}}
   }}
 ]},
{"width": 262, "height": 263, "title": {"text": ["F: Descending Colon,", "Unweighted UniFrac"]},
 "encoding": {
  "x": {"field": "x", "type": "quantitative", "scale": {"domain": [-0.225, 0.405], "nice": false, "zero": false}, "axis": {"title": "PCoA axis 1 (45%)", "titlePadding": 14, "format": ".1f", "values": [-0.2,-0.1,0,0.1,0.2,0.3,0.4], "labelExpr": "indexof([-0.2,0,0.2,0.4],datum.value)>=0 ? replace(datum.label,'\u2212','-') : ''", "gridColor": {"condition": {"test": "indexof([-0.2,0,0.2,0.4],datum.value)>=0", "value": "#e2e2e2"}, "value": "#f2f2f2"}, "tickOpacity": {"condition": {"test": "indexof([-0.2,0,0.2,0.4],datum.value)>=0", "value": 1}, "value": 0}}},
  "y": {"field": "y", "type": "quantitative", "scale": {"domain": [-0.167, 0.181], "nice": false, "zero": false}, "axis": {"title": "PCoA axis 2 (9.9%)", "format": ".1f", "values": [-0.15,-0.1,-0.05,0,0.05,0.1,0.15], "labelExpr": "indexof([-0.1,0,0.1],datum.value)>=0 ? replace(datum.label,'\u2212','-') : ''", "gridColor": {"condition": {"test": "indexof([-0.1,0,0.1],datum.value)>=0", "value": "#e2e2e2"}, "value": "#f2f2f2"}, "tickOpacity": {"condition": {"test": "indexof([-0.1,0,0.1],datum.value)>=0", "value": 1}, "value": 0}}}
 },
 "layer": [
  {"data": {"name": "ell"}, "transform": [{"filter": "datum.p=='F'"}], "mark": {"type": "line", "clip": true, "interpolate": "cardinal-closed", "stroke": "#666", "strokeWidth": 1.2}, "encoding": {"order": {"field": "i", "type": "quantitative"}}},
  {"data": {"name": "pts"}, "transform": [{"filter": "datum.p=='F'"}], "mark": {"type": "point"},
   "encoding": {
    "size": {"condition": [{"test": "datum.c=='Recovery'", "value": 175}, {"test": "datum.c=='High Dose'", "value": 135}, {"test": "datum.c=='Low Dose'", "value": 90}], "value": 110},
    "shape": {"field": "c", "type": "nominal", "scale": {"domain": ["Control","Low Dose","High Dose","Recovery"], "range": ["circle","square","diamond","triangle-up"]}, "legend": {"title": "Condition", "orient": "none", "legendX": 435, "legendY": 1133, "titleFontSize": 19, "titlePadding": 25, "titleAnchor": "start", "labelFontSize": 17, "symbolSize": 100, "symbolStrokeWidth": 2, "symbolStrokeColor": "#000", "symbolFillColor": "#fff", "rowPadding": 0, "labelOffset": 6, "encode": {"symbols": {"update": {"stroke": {"value": "#000"}, "strokeWidth": {"value": 2}, "fill": {"value": "#fff"}, "opacity": {"value": 1}}}}}},
    "fill": {"field": "v", "type": "quantitative", "scale": {"domain": [3.5, 10], "range": ["#ffffff", "#000000"], "interpolate": "lab", "clamp": true}, "legend": {"title": "Log10 Copy Number_µl", "orient": "none", "legendX": -3, "legendY": 1164, "direction": "horizontal", "titleOrient": "left", "titlePadding": 45, "titleFontSize": 20, "labelFontSize": 18, "gradientLength": 110, "gradientThickness": 23, "values": [4,6,8], "labelOffset": 10}}
   }}
 ]}
]}
]}
]
}
